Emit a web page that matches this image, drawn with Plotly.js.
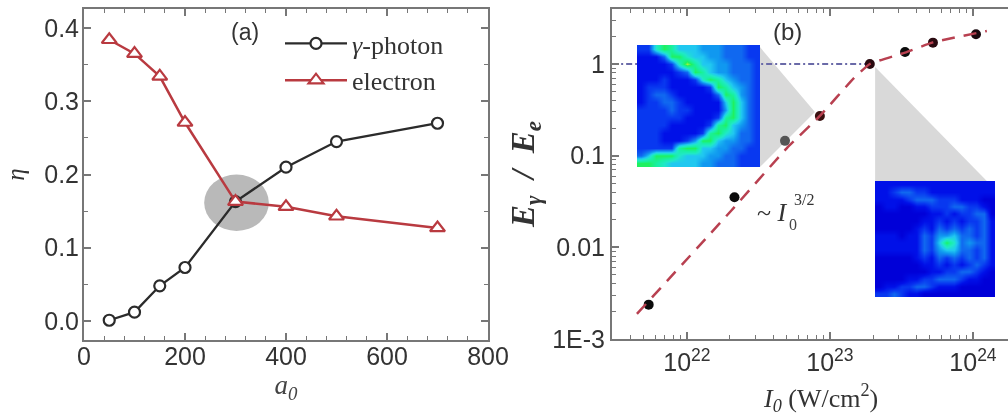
<!DOCTYPE html>
<html><head><meta charset="utf-8">
<script src="https://cdn.plot.ly/plotly-3.0.1.min.js"></script>
<style>html,body{margin:0;padding:0;background:#fff;overflow:hidden}#c{width:1008px;height:416px;filter:blur(0.5px)}</style>
</head><body><div id="c"></div>
<script>
const a0 = [50,100,150,200,300,400,500,700];
const gammaEta = [0.001,0.012,0.048,0.073,0.163,0.21,0.245,0.27];
const electronEta = [0.384,0.365,0.334,0.271,0.163,0.156,0.143,0.127];

const intensity = [5.4e21,2.15e22,4.85e22,8.5e22,1.9e23,3.35e23,5.25e23,1.05e24];
const ratio = [0.00237,0.0352,0.145,0.271,1,1.35,1.71,2.11];
const fitX = [4.47e21,2.03e22,5e22,8.5e22,1.47e23,1.9e23,3.35e23,5.25e23,1.25e24];
const fitY = [0.00188,0.0249,0.121,0.271,0.70,1,1.33,1.72,2.29];
const refX = [3e21,1.9e23];
const refY = [1,1];

const wedgeLeftX = [3.24e22,7.85e22,3.24e22,3.24e22];
const wedgeLeftY = [1.53,0.3,0.0753,1.53];
const wedgeRightX = [2.07e23,1.25e24,2.07e23,2.07e23];
const wedgeRightY = [0.93,0.053,0.053,0.93];

const xTicksB = [1e22,1e23,1e24];
const xTickTextB = ['10<sup>22</sup>','10<sup>23</sup>','10<sup>24</sup>'];
const yTicksB = [0.001,0.01,0.1,1];
const yTickTextB = ['1E-3','0.01','0.1','1'];

const insetLeft = [
[2,2,6,8,7,5,5,5,4,4,4,3,3,3,2,2],
[1,1,1,3,8,8,6,5,5,4,4,3,3,3,2,2],
[1,1,1,1,2,6,9,7,5,5,4,4,3,3,3,2],
[1,1,1,1,1,2,3,8,7,5,4,4,3,3,3,2],
[1,1,1,2,1,1,1,2,6,8,7,5,4,3,3,2],
[1,2,2,2,1,1,1,1,1,2,8,7,5,4,3,2],
[1,2,3,3,2,1,1,1,1,1,3,8,7,4,3,2],
[1,2,2,3,3,2,1,1,1,1,1,5,8,5,3,2],
[2,2,2,2,3,2,2,1,1,1,1,4,8,5,3,2],
[2,2,2,2,2,2,1,1,1,1,2,7,8,5,3,2],
[2,2,2,2,1,1,1,1,1,2,7,8,5,4,3,2],
[2,2,2,1,1,1,1,1,2,7,8,6,5,3,3,2],
[2,2,2,1,1,1,2,4,8,8,5,4,4,3,3,2],
[2,2,2,2,2,7,8,8,5,5,4,4,3,3,2,2],
[3,5,8,8,8,6,5,5,5,4,4,3,3,2,2,2],
[8,8,7,6,5,5,5,5,4,4,3,3,3,2,2,2]];
const insetRight = [
[1,1,1,1,1,1,1,1,1,1,1,1,1,1,1,1],
[1,1,2,3,3,2,2,1,1,1,1,1,1,1,1,1],
[1,1,1,1,2,3,3,3,2,2,2,1,1,1,0,0],
[0,1,1,0,0,1,1,2,2,2,3,3,2,2,1,0],
[0,0,0,0,0,0,0,1,1,2,1,2,2,3,3,0],
[0,0,0,0,0,0,1,1,2,1,2,1,2,2,3,1],
[0,0,0,0,0,1,2,1,3,2,3,2,3,2,3,1],
[1,1,1,0,1,1,3,2,4,4,5,3,3,2,3,1],
[1,1,1,1,1,1,3,2,5,8,6,3,4,3,3,1],
[1,1,1,1,1,1,3,2,4,5,5,3,3,2,3,1],
[0,0,0,0,0,1,2,1,3,2,3,2,3,2,3,1],
[0,0,0,0,0,0,1,1,2,1,2,1,2,3,2,1],
[0,0,0,0,0,0,0,1,1,2,2,3,3,2,1,0],
[0,0,0,0,1,1,2,2,3,3,3,2,1,1,0,0],
[0,1,1,2,2,3,3,2,1,1,1,0,0,0,0,0],
[2,2,3,2,1,1,0,0,0,0,0,0,0,0,0,0]];
const insetScale = [[0,'#0000d8'],[0.111,'#0010e8'],[0.222,'#0838f0'],[0.333,'#1068f0'],[0.444,'#1098f0'],[0.556,'#20c8f0'],[0.667,'#20e8c8'],[0.778,'#18f0a0'],[0.889,'#20f060'],[1,'#a0f040']];

const axisColor = '#777', textColor = '#333';
const W = 1008, H = 416;
const sans = 'Liberation Sans', serif = 'Liberation Serif';
const xd = (l,r)=>[l/W,r/W], yd = (t,b)=>[(H-b)/H,(H-t)/H];

const logMinor = [];
for (let e=21;e<=24;e++) for (let m=2;m<=9;m++) logMinor.push(m*Math.pow(10,e));
const logMinorY = [];
for (let e=-3;e<=0;e++) for (let m=2;m<=9;m++) logMinorY.push(m*Math.pow(10,e));

const base = {showgrid:false,zeroline:false,showline:true,linecolor:axisColor,linewidth:2,ticks:'inside',tickcolor:axisColor,tickwidth:1.5,ticklen:7,
  tickfont:{family:sans,size:25,color:textColor}};

const traces = [
 {x:a0,y:gammaEta,xaxis:'x',yaxis:'y',mode:'lines+markers',name:'<i>γ</i>-photon',line:{color:'#2b2b2b',width:2.3},
  marker:{symbol:'circle',size:11,color:'#fff',line:{color:'#2b2b2b',width:2.2}}},
 {x:a0,y:electronEta,xaxis:'x',yaxis:'y',mode:'lines+markers',name:'electron',line:{color:'#b93a40',width:2.5},
  marker:{symbol:'triangle-up',size:13,color:'#fff',line:{color:'#b93a40',width:2.2}}},
 {x:wedgeLeftX,y:wedgeLeftY,xaxis:'x2',yaxis:'y2',mode:'lines',fill:'toself',fillcolor:'#d9d9d9',line:{width:0},showlegend:false,hoverinfo:'skip'},
 {x:wedgeRightX,y:wedgeRightY,xaxis:'x2',yaxis:'y2',mode:'lines',fill:'toself',fillcolor:'#d9d9d9',line:{width:0},showlegend:false,hoverinfo:'skip'},
 {x:refX,y:refY,xaxis:'x2',yaxis:'y2',mode:'lines',line:{color:'#6a6aa8',width:2,dash:'6px,3px,2px,3px'},showlegend:false},
 {x:intensity,y:ratio,xaxis:'x2',yaxis:'y2',mode:'markers',marker:{color:['#0c0c0c','#0c0c0c','#555','#3a1010','#2a0a10','#0c0c0c','#2a0a10','#1a0a10'],size:10},showlegend:false},
 {x:fitX,y:fitY,xaxis:'x2',yaxis:'y2',mode:'lines',line:{color:'#b84050',width:2.5,dash:'13px,9px',shape:'spline',smoothing:0.4},showlegend:false},
 {z:insetLeft,type:'heatmap',xaxis:'x3',yaxis:'y3',colorscale:insetScale,zmin:0,zmax:9,zsmooth:'best',showscale:false},
 {z:insetRight,type:'heatmap',xaxis:'x4',yaxis:'y4',colorscale:insetScale,zmin:0,zmax:9,zsmooth:'best',showscale:false}
];

const ann = (x,y,text,size,family,color,extra)=>Object.assign({xref:'paper',yref:'paper',x:x/W,y:(H-y)/H,text,showarrow:false,
  font:{family,size,color:color||textColor},xanchor:'center',yanchor:'middle'},extra||{});

const layout = {
 width:W,height:H,margin:{l:0,r:0,t:0,b:0},paper_bgcolor:'#fff',plot_bgcolor:'rgba(0,0,0,0)',
 xaxis:Object.assign({},base,{domain:xd(84,488),anchor:'y',range:[0,800],tickvals:[0,200,400,600,800],mirror:'allticks',ticklabelstandoff:-7,
   minor:{ticks:'inside',ticklen:4,dtick:40,tickcolor:axisColor,tickwidth:1.2},
   title:{text:'<i>a<sub>0</sub></i>',font:{family:serif,size:27,color:'#444'},standoff:0}}),
 yaxis:Object.assign({},base,{domain:yd(9,340),anchor:'x',range:[-0.026,0.426],tickvals:[0,0.1,0.2,0.3,0.4],tickformat:'.1f',mirror:'allticks',ticklabelstandoff:-2,
   minor:{ticks:'inside',ticklen:4,dtick:0.05,tickcolor:axisColor,tickwidth:1.2},
   title:{text:'<i>η</i>',font:{family:serif,size:25,color:'#333'},standoff:12}}),
 xaxis2:Object.assign({},base,{domain:xd(612,1008),anchor:'y2',type:'log',range:[21.476,24.245],tickmode:'array',tickvals:xTicksB,ticktext:xTickTextB,mirror:'allticks',
   minor:{ticks:'inside',ticklen:4,tickmode:'array',tickvals:logMinor,tickcolor:axisColor,tickwidth:1.2}}),
 yaxis2:Object.assign({},base,{domain:yd(9,339),anchor:'x2',type:'log',range:[-3,0.6],tickmode:'array',tickvals:yTicksB,ticktext:yTickTextB,
   minor:{ticks:'inside',ticklen:4,tickmode:'array',tickvals:logMinorY,tickcolor:axisColor,tickwidth:1.2},
   title:{text:'<b><i>E<sub>γ</sub>  /  E<sub>e</sub></i></b>',font:{family:serif,size:33,color:'#333'},standoff:8}}),
 xaxis3:{domain:xd(637,760),anchor:'y3',visible:false},
 yaxis3:{domain:yd(45,167),anchor:'x3',visible:false,autorange:'reversed'},
 xaxis4:{domain:xd(875,995),anchor:'y4',visible:false},
 yaxis4:{domain:yd(181,297),anchor:'x4',visible:false,autorange:'reversed'},
 shapes:[{type:'circle',xref:'x',yref:'y',x0:238,x1:366,y0:0.123,y1:0.2,fillcolor:'#b9b9b9',line:{width:0},layer:'below'}],
 showlegend:true,
 legend:{x:280/W,y:(H-20)/H,xanchor:'left',yanchor:'top',bgcolor:'rgba(0,0,0,0)',itemwidth:62,font:{family:serif,size:26,color:'#333'},itemclick:false},
 annotations:[
  ann(245,32,'(a)',23,sans),
  ann(787,32,'(b)',24,sans),
  ann(772,212,'~ <i>I</i>',26,serif),
  ann(793,224,'0',16,serif,'#444'),
  ann(804,200,'3/2',16,serif),
  ann(820,398,'<i>I<sub>0</sub></i> (W/cm<sup>2</sup>)',26,serif)
 ]
};
Plotly.newPlot('c',traces,layout,{displayModeBar:false});
</script></body></html>
